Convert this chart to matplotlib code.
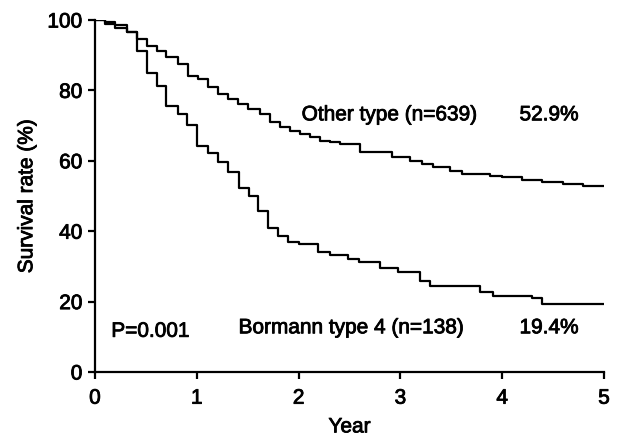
import numpy as np
import matplotlib
matplotlib.use("Agg")
import matplotlib.pyplot as plt
import matplotlib.patheffects as pe

plt.rcParams['font.family'] = ['Liberation Sans', 'DejaVu Sans']

# Kaplan-Meier steps (year, survival %)
other_t = [0, 0.10, 0.20, 0.31, 0.41, 0.51, 0.61, 0.70, 0.82, 0.91, 1.01,
           1.11, 1.21, 1.31, 1.40, 1.50, 1.62, 1.72, 1.82, 1.92, 2.01, 2.11,
           2.21, 2.31, 2.41, 2.60, 2.92, 3.09, 3.21, 3.32, 3.49, 3.61, 3.88,
           4.00, 4.19, 4.39, 4.60, 4.79, 5.0]
other_s = [100, 99.0, 98.6, 96.5, 94.6, 92.7, 91.3, 89.4, 87.5, 84.2, 83.2,
           81.0, 79.0, 77.6, 76.1, 74.7, 73.3, 71.0, 69.6, 68.5, 67.6, 66.8,
           65.6, 65.2, 64.8, 62.5, 61.0, 60.0, 59.0, 58.2, 57.1, 56.2, 55.7,
           55.3, 54.5, 53.9, 53.4, 52.9, 52.9]

borr_t = [0, 0.10, 0.20, 0.31, 0.41, 0.51, 0.61, 0.70, 0.82, 0.90, 1.00,
          1.11, 1.21, 1.31, 1.41, 1.51, 1.60, 1.70, 1.80, 1.90, 2.00, 2.19,
          2.31, 2.49, 2.59, 2.80, 2.98, 3.19, 3.29, 3.78, 3.91, 4.29, 4.39, 5.0]
borr_s = [100, 99.3, 97.8, 96.5, 91.3, 85.0, 81.3, 75.5, 73.3, 70.2, 64.3,
          62.2, 59.6, 56.7, 52.2, 50.1, 45.6, 40.8, 38.5, 37.0, 36.3, 34.0,
          33.2, 32.1, 31.2, 29.5, 28.3, 25.9, 24.3, 22.6, 21.7, 20.9, 19.4, 19.4]

fs = 15
heavy = [pe.withStroke(linewidth=0.6, foreground='black')]

fig = plt.figure(figsize=(6.23, 4.39), dpi=100)
ax = fig.add_axes([95/623, 66/439, 509/623, 352/439])

ax.step(other_t, other_s, where='post', color='black', lw=1.6)
ax.step(borr_t, borr_s, where='post', color='black', lw=1.6)

ax.set_xlim(0, 5)
ax.set_ylim(0, 100)
ax.set_xticks(range(6))
ax.set_yticks(range(0, 101, 20))
for side in ['top', 'right']:
    ax.spines[side].set_visible(False)
for side in ['left', 'bottom']:
    ax.spines[side].set_linewidth(1.6)
ax.tick_params(width=1.6, length=5, labelsize=fs)
ax.tick_params(axis='x', pad=7)
ax.tick_params(axis='y', pad=4)
for lab in ax.get_xticklabels() + ax.get_yticklabels():
    lab.set_path_effects(heavy)

ax.set_xlabel("Year", fontsize=fs, labelpad=7, path_effects=heavy)
ax.set_ylabel("Survival rate (%)", fontsize=fs, labelpad=8, path_effects=heavy)

ax.text(2.03, 71.5, "Other type (n=639)", fontsize=fs, va='baseline', path_effects=heavy)
ax.text(4.17, 71.5, "52.9%", fontsize=fs, va='baseline', path_effects=heavy)
ax.text(1.41, 11.0, "Bormann type 4 (n=138)", fontsize=fs, va='baseline', path_effects=heavy)
ax.text(4.17, 11.0, "19.4%", fontsize=fs, va='baseline', path_effects=heavy)
ax.text(0.16, 10.0, "P=0.001", fontsize=fs, va='baseline', path_effects=heavy)

fig.savefig("out.png", dpi=100)
